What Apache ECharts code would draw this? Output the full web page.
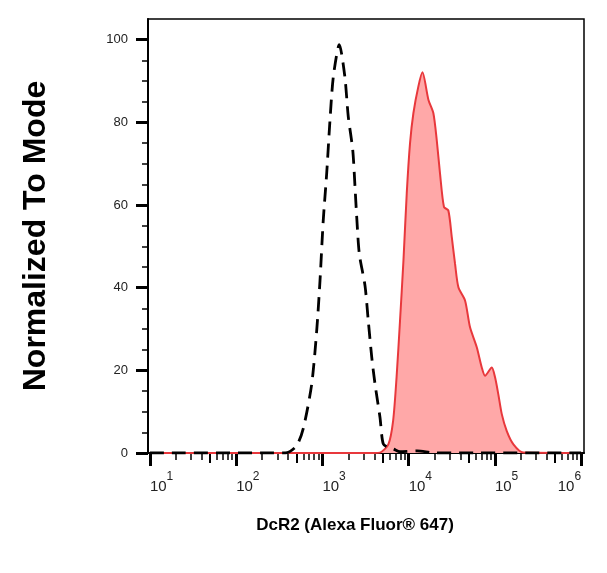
<!DOCTYPE html>
<html>
<head>
<meta charset="utf-8">
<style>
  html, body { margin: 0; padding: 0; background: #fff; }
  #chart { width: 607px; height: 573px; }
</style>
<script src="https://cdn.jsdelivr.net/npm/echarts@6/dist/echarts.min.js"></script>
</head>
<body>
<div id="chart"></div>
<script>
// ---- data (fluorescence intensity, % of mode) ----
const isoX = [10, 200, 372, 500, 603, 752, 859, 938, 1023, 1122, 1225, 1340, 1570,
  1820, 1995, 2249, 2388, 2500, 2679, 3119, 3404, 3733, 4074, 4656, 5082, 6026, 6607, 7943, 12590, 20000, 1000000];
const isoY = [0, 0, 0, 1.7, 6.1, 16.7, 29.6, 41.7, 56.3, 67.7, 80.6, 91.1, 98.8,
  91.1, 81.4, 73.3, 64.4, 57.1, 48.2, 40.5, 32, 23.2, 16.7, 8.6, 2.2, 1.2, 1, 0.3, 0.5, 0, 0];

const dcrX = [10, 4000, 4660, 5821, 6607, 7244, 7943, 8710, 9506, 10375, 11350, 12970, 14450,
  16980, 19360, 21180, 23120, 25700, 28840, 31620, 34510, 37760, 45080, 51520, 61660,
  70470, 76910, 92040, 100460, 109650, 120230, 137400, 164060, 213800, 1000000];
const dcrY = [0, 0, 0.1, 2.1, 7.8, 18.3, 32, 46.6, 62.8, 74.9, 82.2, 88.7, 92.1,
  85.4, 82.2, 75.7, 67.6, 59.5, 58.7, 52.3, 45.8, 40.1, 36.9, 30.4, 25.6,
  20.7, 18.7, 20.7, 18.3, 14.2, 9.4, 5.3, 2.1, 0.1, 0];

const xMajor = [10, 100, 1000, 10000, 100000, 1000000];
const xMid = [50, 500, 5000, 50000, 500000];
const xMinor = [20, 30, 40, 60, 70, 80, 90, 200, 300, 400, 600, 700, 800, 900,
  2000, 3000, 4000, 6000, 7000, 8000, 9000, 20000, 30000, 40000, 60000, 70000, 80000, 90000,
  200000, 300000, 400000, 600000, 700000, 800000, 900000];
const yMajor = [0, 20, 40, 60, 80, 100];
const yMinor = [5, 10, 15, 25, 30, 35, 45, 50, 55, 65, 70, 75, 85, 90, 95];

const pairs = (xs, ys) => xs.map((x, i) => [x, ys[i]]);

const X_MIN = 9.5, X_MAX = 1080000;
const FONT = 'Liberation Sans, Arial, sans-serif';

// extra tick-only axes
function tickAxis(kind, vals, len, w) {
  const base = kind === 'x'
    ? { type: 'log', min: X_MIN, max: X_MAX, position: 'bottom' }
    : { type: 'value', min: 0, max: 105, position: 'left' };
  return Object.assign(base, {
    axisLine: { show: false },
    splitLine: { show: false },
    axisLabel: { show: false },
    axisTick: { show: true, length: len, customValues: vals, lineStyle: { color: '#000', width: w } }
  });
}

const chart = echarts.init(document.getElementById('chart'));
chart.setOption({
  animation: false,
  backgroundColor: '#fff',
  grid: { left: 148, top: 19, width: 436, height: 434, show: true, borderColor: '#000', borderWidth: 1.5 },
  xAxis: [
    {
      type: 'log', min: X_MIN, max: X_MAX, position: 'bottom',
      name: 'DcR2 (Alexa Fluor® 647)', nameLocation: 'middle', nameGap: 64,
      nameTextStyle: { fontFamily: FONT, fontSize: 17, fontWeight: 'bold', color: '#000', padding: [0, 0, 0, -22] },
      axisLine: { show: true, lineStyle: { color: '#000', width: 2 } },
      splitLine: { show: false },
      axisTick: { show: true, length: 13, customValues: xMajor, lineStyle: { color: '#000', width: 3 } },
      axisLabel: {
        customValues: xMajor, margin: 16, align: 'left', alignMaxLabel: 'right',
        formatter: (v) => '{b|10}{s|' + Math.round(Math.log10(v)) + '}',
        rich: {
          b: { fontFamily: FONT, fontSize: 15, color: '#222', padding: [10, 0, 0, 0] },
          s: { fontFamily: FONT, fontSize: 12, color: '#222', padding: [0, 0, 10, 0] }
        }
      }
    },
    tickAxis('x', xMid, 10, 2),
    tickAxis('x', xMinor, 7, 1.5)
  ],
  yAxis: [
    {
      type: 'value', min: 0, max: 105,
      name: 'Normalized To Mode', nameLocation: 'middle', nameGap: 96, nameRotate: 90,
      nameTextStyle: { fontFamily: FONT, fontSize: 32, fontWeight: 'bold', color: '#000' },
      axisLine: { show: true, lineStyle: { color: '#000', width: 2 } },
      splitLine: { show: false },
      axisTick: { show: true, length: 12, customValues: yMajor, lineStyle: { color: '#000', width: 3 } },
      axisLabel: { customValues: yMajor, margin: 20, fontFamily: FONT, fontSize: 13, color: '#222' }
    },
    tickAxis('y', yMinor, 6, 1.5)
  ],
  series: [
    {
      name: 'DcR2', type: 'line', xAxisIndex: 0, yAxisIndex: 0,
      data: pairs(dcrX, dcrY), showSymbol: false, smooth: 0.25,
      lineStyle: { color: '#e8383c', width: 2 },
      areaStyle: { color: '#ffa8a8', opacity: 1 },
      z: 2
    },
    {
      name: 'Isotype', type: 'line', xAxisIndex: 0, yAxisIndex: 0,
      data: pairs(isoX, isoY), showSymbol: false, smooth: 0.25,
      lineStyle: { color: '#000', width: 2.8, type: [14, 8] },
      z: 3
    }
  ]
});
</script>
</body>
</html>
